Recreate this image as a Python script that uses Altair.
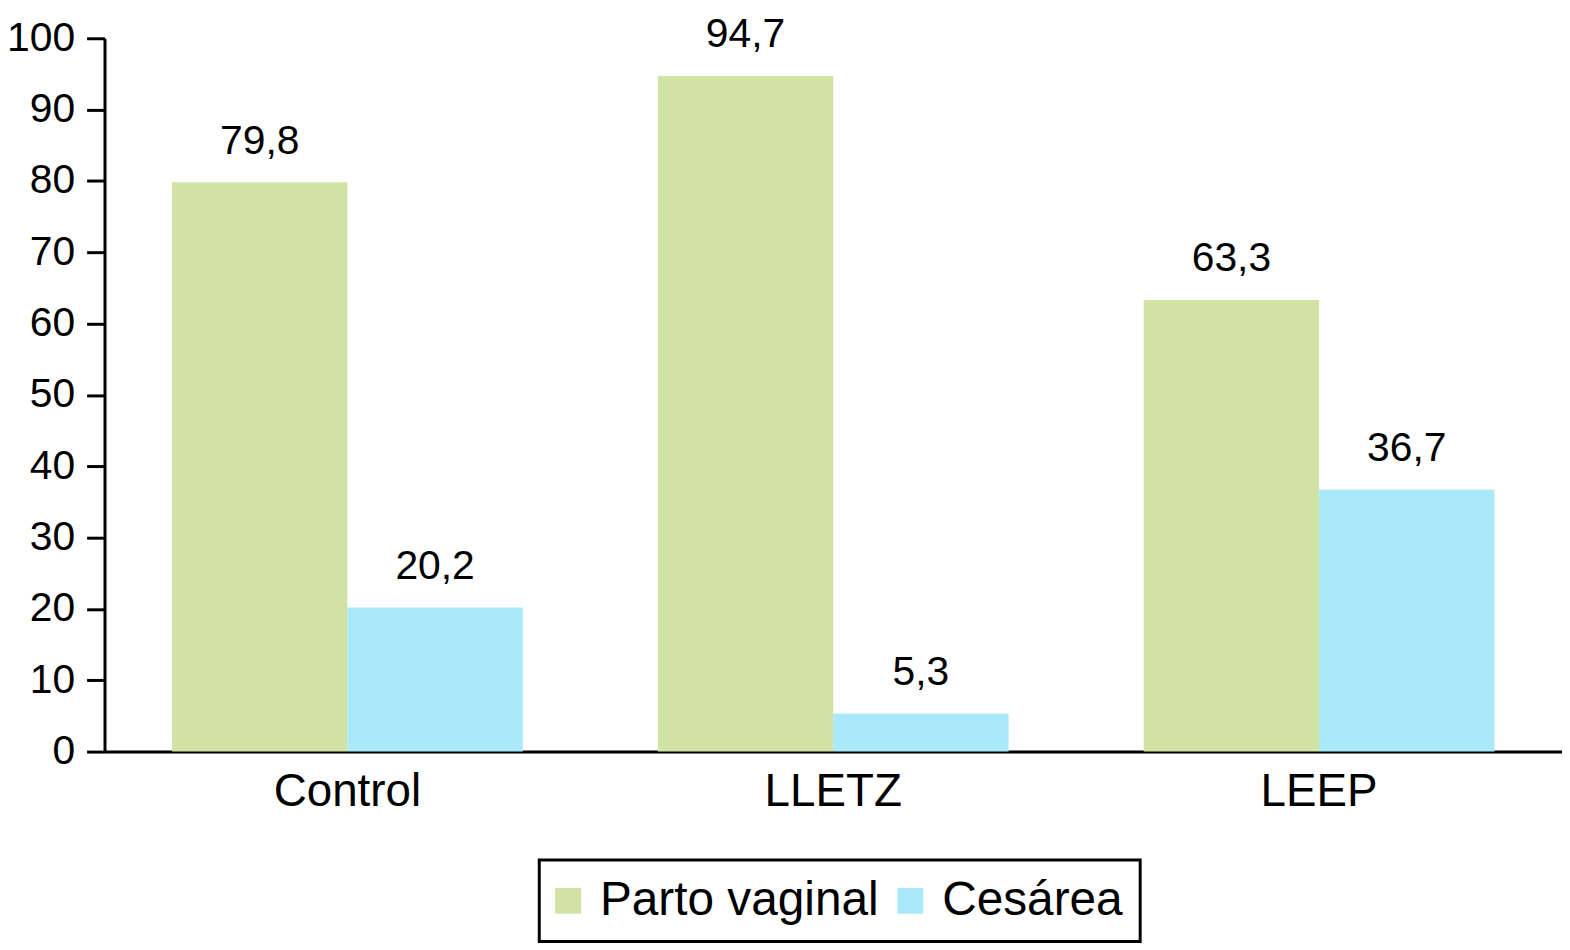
import altair as alt
import pandas as pd

categories = ["Control", "LLETZ", "LEEP"]
series = ["Parto vaginal", "Cesárea"]
parto_vaginal = [79.8, 94.7, 63.3]
cesarea = [20.2, 5.3, 36.7]
colors = ["#d0e3a5", "#a9e9fa"]

rows = []
for i, c in enumerate(categories):
    for s, vals in zip(series, [parto_vaginal, cesarea]):
        rows.append({"grupo": c, "tipo": s, "valor": vals[i],
                     "etiqueta": f"{vals[i]:.1f}".replace(".", ",")})
df = pd.DataFrame(rows)

FONT = "Liberation Sans"

x = alt.X("grupo:N", sort=categories, title=None,
          scale=alt.Scale(paddingInner=0.278, paddingOuter=0.139),
          axis=alt.Axis(labelAngle=0, labelFontSize=46, labelFont=FONT, labelColor="black",
                        ticks=False, domainColor="black", domainWidth=3, labelPadding=18))
xo = alt.XOffset("tipo:N", sort=series, scale=alt.Scale(paddingInner=0, paddingOuter=0))
y = alt.Y("valor:Q", title=None,
          scale=alt.Scale(domain=[0, 100], nice=False),
          axis=alt.Axis(values=list(range(0, 101, 10)), grid=False, labelFontSize=41, labelFont=FONT,
                        labelColor="black", tickSize=18, tickWidth=3, tickColor="black",
                        domainColor="black", domainWidth=3, labelPadding=12))

bars = alt.Chart(df).mark_bar().encode(
    x=x, xOffset=xo, y=y,
    color=alt.Color("tipo:N", sort=series, scale=alt.Scale(domain=series, range=colors),
                    legend=alt.Legend(title=None, orient="none", legendX=437, legendY=826,
                                      direction="horizontal", symbolType="square", symbolSize=676,
                                      symbolStrokeWidth=0, symbolOffset=-12, labelFontSize=48,
                                      labelFont=FONT, labelColor="black", labelOffset=8,
                                      padding=17, strokeColor="black",
                                      labelLimit=0))
)

labels = alt.Chart(df).mark_text(baseline="alphabetic", dy=-29, fontSize=41, font=FONT, color="black").encode(
    x=x, xOffset=xo, y=y, text="etiqueta:N"
)

chart = (bars + labels).properties(
    width=1465, height=717,
    autosize=alt.AutoSizeParams(type="none"),
    padding={"left": 97, "top": 28, "right": 0, "bottom": 196},
).configure_view(stroke=None).configure_legend(columnPadding=18, strokeWidth=3)

chart.save("out.html", embed_options={"renderer": "svg", "actions": False})
